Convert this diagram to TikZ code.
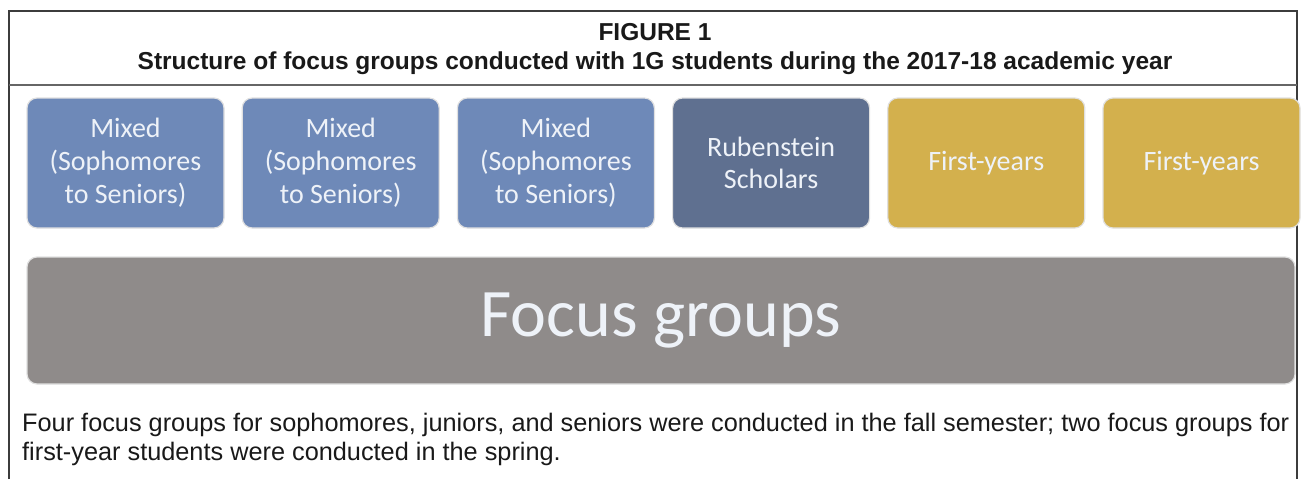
\documentclass[tikz,border=0pt]{standalone}
\usepackage{fontspec}
\setmainfont{Liberation Sans}
\newfontfamily\boxfont{Carlito}
\usetikzlibrary{positioning}

\definecolor{mixblue}{RGB}{110,137,184}
\definecolor{rubblue}{RGB}{95,112,144}
\definecolor{firstgold}{RGB}{211,176,77}
\definecolor{focusgray}{RGB}{143,139,138}
\definecolor{boxtext}{RGB}{238,242,248}
\definecolor{framegray}{RGB}{60,60,60}

\tikzset{
  group/.style={rounded corners=10pt, draw=black!12, line width=1.2pt,
    minimum width=197pt, minimum height=130pt, inner sep=0pt,
    align=center, text=boxtext,
    font=\boxfont\fontsize{28}{33}\selectfont},
  frame/.style={draw=framegray, line width=1.5pt},
  head/.style={inner sep=0pt, text=black!90,
    font=\bfseries\fontsize{24.5}{28}\selectfont},
}

\begin{document}
\begin{tikzpicture}[x=1pt,y=-1pt]
  \useasboundingbox (0,0) rectangle (1303,479);

  % frame and header rule
  \draw[frame] (9,479) -- (9,11) -- (1297,11) -- (1297,479);
  \draw[draw=black!60, line width=2pt] (9,85) -- (1297,85);

  \node[head] (fig) at (655,32) {FIGURE 1};
  \node[head] (title) at (655,63)
    {Structure of focus groups conducted with 1G students during the 2017-18 academic year};

  % the six groups
  \node[group, fill=mixblue] (mix1) at (125.5,163) {Mixed\\(Sophomores\\to Seniors)};
  \node[group, fill=mixblue, right=17pt of mix1] (mix2) {Mixed\\(Sophomores\\to Seniors)};
  \node[group, fill=mixblue, right=17pt of mix2] (mix3) {Mixed\\(Sophomores\\to Seniors)};
  \node[group, fill=rubblue, right=17pt of mix3] (rub) {Rubenstein\\[-1pt]Scholars};
  \node[group, fill=firstgold, right=17pt of rub] (first1) {First-years};
  \node[group, fill=firstgold, right=17pt of first1] (first2) {First-years};

  \node[group, fill=focusgray, minimum width=1268pt, minimum height=127pt,
    font=\boxfont\fontsize{68}{72}\selectfont] (focus) at (661,320.5) {Focus groups};

  \node[anchor=base west, align=left, inner sep=0pt, text=black!90,
    font=\fontsize{25.3}{29}\selectfont] (note) at (22,460)
    {Four focus groups for sophomores, juniors, and seniors were conducted in the fall semester; two focus groups for\\
     first-year students were conducted in the spring.};
\end{tikzpicture}
\end{document}
